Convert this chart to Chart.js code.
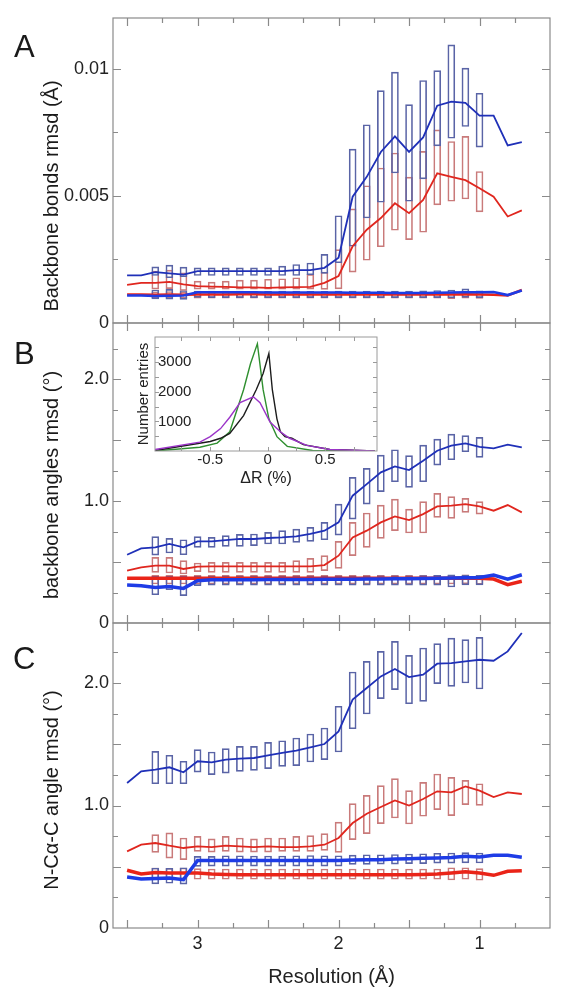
<!DOCTYPE html>
<html>
<head>
<meta charset="utf-8">
<script src="https://cdn.jsdelivr.net/npm/chart.js@4.4.1/dist/chart.umd.min.js"></script>
<style>
  body { margin: 0; background: #fff; }
  #wrap { position: relative; width: 569px; height: 1006px; font-family: 'Liberation Sans', Arial, sans-serif; color: #1a1a1a; }
  canvas { position: absolute; left: 0; top: 0; }
  #inset { left: 125px; top: 325px; }
  .tag { position: absolute; font-size: 31px; line-height: 1; }
  .ytitle { position: absolute; font-size: 20px; line-height: 1; white-space: nowrap; transform: translate(-50%, -50%) rotate(-90deg); }
</style>
</head>
<body>
<div id="wrap">
  <canvas id="cA" width="569" height="1006"></canvas>
  <canvas id="cB" width="569" height="1006"></canvas>
  <canvas id="cC" width="569" height="1006"></canvas>
  <canvas id="inset" width="262" height="170"></canvas>
  <div class="tag" style="left:14px;top:31px">A</div>
  <div class="tag" style="left:14px;top:338px">B</div>
  <div class="tag" style="left:13px;top:643px">C</div>
  <div class="ytitle" style="left:51px;top:196px">Backbone bonds rmsd (Å)</div>
  <div class="ytitle" style="left:51px;top:485px">backbone angles rmsd (°)</div>
  <div class="ytitle" style="left:51px;top:790px">N-Cα-C angle rmsd (°)</div>
</div>
<script>
// resolution grid (Å) of the running lines and of the boxes
const lineRes = [3.5,3.4,3.3,3.2,3.1,3.0,2.9,2.8,2.7,2.6,2.5,2.4,2.3,2.2,2.1,2.0,1.9,1.8,1.7,1.6,1.5,1.4,1.3,1.2,1.1,1.0,0.9,0.8,0.7]
const boxRes = [3.3,3.2,3.1,3.0,2.9,2.8,2.7,2.6,2.5,2.4,2.3,2.2,2.1,2.0,1.9,1.8,1.7,1.6,1.5,1.4,1.3,1.2,1.1,1.0]

// panel A - backbone bonds rmsd
const aBlueMid = [0.00187,0.00187,0.00200,0.00195,0.00190,0.00204,0.00204,0.00204,0.00204,0.00204,0.00204,0.00204,0.00208,0.00208,0.00217,0.00257,0.00497,0.00575,0.00673,0.00734,0.00673,0.00730,0.00855,0.00871,0.00866,0.00816,0.00816,0.00699,0.00712]
const aRedMid = [0.00150,0.00158,0.00158,0.00162,0.00152,0.00145,0.00143,0.00142,0.00140,0.00140,0.00138,0.00140,0.00141,0.00142,0.00158,0.00185,0.00302,0.00367,0.00413,0.00471,0.00432,0.00484,0.00589,0.00575,0.00562,0.00530,0.00497,0.00419,0.00443]
const aBlueLow = [0.00108,0.00108,0.00106,0.00107,0.00108,0.00121,0.00121,0.00121,0.00121,0.00121,0.00120,0.00120,0.00120,0.00120,0.00120,0.00120,0.00119,0.00119,0.00119,0.00118,0.00118,0.00118,0.00119,0.00120,0.00121,0.00121,0.00122,0.00110,0.00128]
const aRedLow = [0.00112,0.00112,0.00111,0.00112,0.00111,0.00112,0.00112,0.00112,0.00113,0.00113,0.00112,0.00112,0.00112,0.00112,0.00112,0.00112,0.00113,0.00112,0.00112,0.00113,0.00112,0.00112,0.00113,0.00112,0.00113,0.00112,0.00111,0.00108,0.00130]
const aBlueBoxLo = [0.00187,0.00178,0.00182,0.00187,0.00187,0.00187,0.00187,0.00187,0.00187,0.00187,0.00187,0.00190,0.00195,0.00237,0.00302,0.00413,0.00475,0.00590,0.00479,0.00567,0.00697,0.00727,0.00773,0.00692]
const aBlueBoxHi = [0.00221,0.00228,0.00220,0.00217,0.00217,0.00217,0.00217,0.00217,0.00217,0.00224,0.00230,0.00236,0.00270,0.00422,0.00684,0.00780,0.00914,0.00987,0.00859,0.00954,0.00993,0.01094,0.01003,0.00904]
const aRedBoxLo = [0.00133,0.00135,0.00128,0.00133,0.00133,0.00133,0.00133,0.00133,0.00133,0.00133,0.00133,0.00133,0.00132,0.00134,0.00200,0.00247,0.00300,0.00365,0.00328,0.00357,0.00465,0.00479,0.00488,0.00437]
const aRedBoxHi = [0.00204,0.00208,0.00197,0.00165,0.00161,0.00165,0.00169,0.00169,0.00172,0.00174,0.00178,0.00191,0.00200,0.00289,0.00449,0.00540,0.00610,0.00669,0.00574,0.00675,0.00760,0.00714,0.00734,0.00596]
const aBlueLowBoxLo = [0.00095,0.00094,0.00093,0.00101,0.00100,0.00100,0.00100,0.00100,0.00100,0.00100,0.00100,0.00100,0.00100,0.00100,0.00100,0.00100,0.00100,0.00100,0.00100,0.00100,0.00100,0.00099,0.00101,0.00100]
const aBlueLowBoxHi = [0.00130,0.00132,0.00128,0.00126,0.00126,0.00126,0.00126,0.00125,0.00125,0.00126,0.00126,0.00125,0.00125,0.00126,0.00126,0.00126,0.00126,0.00126,0.00126,0.00127,0.00128,0.00130,0.00134,0.00127]
const aRedLowBoxLo = [0.00098,0.00098,0.00097,0.00098,0.00098,0.00098,0.00098,0.00098,0.00098,0.00098,0.00098,0.00098,0.00098,0.00098,0.00098,0.00098,0.00098,0.00098,0.00098,0.00098,0.00098,0.00096,0.00098,0.00097]
const aRedLowBoxHi = [0.00122,0.00124,0.00122,0.00121,0.00121,0.00121,0.00121,0.00121,0.00121,0.00121,0.00121,0.00121,0.00121,0.00121,0.00121,0.00121,0.00121,0.00121,0.00121,0.00121,0.00121,0.00121,0.00124,0.00121]

// panel B - backbone angles rmsd
const bBlueMid = [0.560,0.612,0.620,0.648,0.620,0.669,0.669,0.680,0.689,0.689,0.697,0.702,0.710,0.730,0.757,0.825,1.044,1.139,1.235,1.284,1.254,1.330,1.413,1.454,1.473,1.445,1.432,1.462,1.440]
const bRedMid = [0.429,0.456,0.470,0.470,0.443,0.462,0.465,0.465,0.465,0.465,0.465,0.465,0.465,0.465,0.475,0.552,0.702,0.757,0.825,0.874,0.844,0.893,0.956,0.962,0.975,0.956,0.921,0.967,0.907]
const bBlueLow = [0.311,0.306,0.292,0.300,0.284,0.347,0.355,0.355,0.355,0.355,0.356,0.356,0.357,0.357,0.358,0.358,0.359,0.360,0.360,0.362,0.362,0.364,0.366,0.370,0.372,0.374,0.393,0.360,0.396]
const bRedLow = [0.366,0.366,0.367,0.366,0.366,0.366,0.366,0.366,0.366,0.366,0.366,0.366,0.366,0.366,0.366,0.366,0.366,0.366,0.366,0.366,0.366,0.366,0.366,0.366,0.368,0.366,0.360,0.314,0.342]
const bBlueBoxLo = [0.557,0.574,0.560,0.620,0.620,0.628,0.628,0.634,0.648,0.648,0.661,0.669,0.683,0.721,0.852,0.975,1.077,1.158,1.112,1.158,1.295,1.339,1.404,1.358]
const bBlueBoxHi = [0.708,0.694,0.683,0.708,0.702,0.716,0.727,0.730,0.743,0.757,0.770,0.784,0.825,0.975,1.194,1.268,1.377,1.421,1.372,1.459,1.508,1.549,1.536,1.522]
const bRedBoxLo = [0.415,0.410,0.402,0.421,0.415,0.415,0.415,0.415,0.415,0.415,0.415,0.415,0.429,0.448,0.552,0.620,0.694,0.757,0.738,0.738,0.866,0.858,0.907,0.893]
const bRedBoxHi = [0.538,0.538,0.511,0.492,0.497,0.497,0.497,0.497,0.497,0.497,0.511,0.530,0.552,0.669,0.825,0.902,0.967,1.016,0.934,0.995,1.063,1.036,1.022,0.995]
const bBlueLowBoxLo = [0.232,0.273,0.225,0.306,0.310,0.310,0.310,0.310,0.310,0.310,0.310,0.310,0.310,0.310,0.310,0.310,0.310,0.310,0.310,0.310,0.310,0.295,0.312,0.312]
const bBlueLowBoxHi = [0.382,0.382,0.382,0.382,0.382,0.384,0.384,0.384,0.384,0.384,0.384,0.384,0.384,0.384,0.384,0.384,0.386,0.386,0.386,0.388,0.390,0.396,0.392,0.390]
const bRedLowBoxLo = [0.320,0.320,0.320,0.320,0.320,0.320,0.320,0.320,0.320,0.320,0.320,0.320,0.320,0.320,0.320,0.320,0.320,0.320,0.320,0.320,0.320,0.320,0.322,0.318]
const bRedLowBoxHi = [0.390,0.390,0.390,0.390,0.390,0.390,0.390,0.390,0.390,0.390,0.390,0.390,0.390,0.390,0.390,0.390,0.390,0.390,0.390,0.390,0.390,0.390,0.395,0.390]

// panel C - N-CA-C angle rmsd
const cBlueMid = [1.184,1.279,1.293,1.312,1.271,1.361,1.352,1.374,1.382,1.388,1.410,1.429,1.448,1.475,1.502,1.605,1.864,1.959,2.054,2.114,2.049,2.068,2.158,2.163,2.177,2.190,2.182,2.258,2.408]
const cRedMid = [0.626,0.680,0.694,0.672,0.653,0.667,0.661,0.672,0.667,0.661,0.667,0.661,0.661,0.667,0.680,0.735,0.857,0.933,0.988,1.042,0.999,1.053,1.116,1.107,1.156,1.121,1.069,1.107,1.094]
const cBlueLow = [0.416,0.400,0.405,0.408,0.395,0.552,0.552,0.552,0.552,0.552,0.552,0.552,0.552,0.552,0.552,0.552,0.555,0.558,0.558,0.563,0.565,0.569,0.572,0.575,0.585,0.580,0.593,0.593,0.577]
const cRedLow = [0.471,0.441,0.454,0.449,0.449,0.449,0.440,0.437,0.435,0.435,0.435,0.435,0.435,0.435,0.435,0.435,0.435,0.435,0.435,0.435,0.435,0.437,0.440,0.449,0.460,0.449,0.430,0.463,0.468]
const cBlueBoxLo = [1.178,1.178,1.178,1.273,1.252,1.265,1.279,1.287,1.301,1.320,1.325,1.355,1.374,1.437,1.627,1.747,1.872,1.946,1.831,1.850,1.995,1.973,2.000,1.951]
const cBlueBoxHi = [1.442,1.410,1.361,1.456,1.437,1.464,1.483,1.483,1.516,1.529,1.551,1.584,1.633,1.810,2.090,2.177,2.259,2.340,2.226,2.286,2.321,2.367,2.354,2.373]
const cRedBoxLo = [0.618,0.571,0.558,0.626,0.620,0.626,0.620,0.620,0.620,0.626,0.626,0.626,0.634,0.618,0.721,0.770,0.852,0.898,0.849,0.912,0.966,0.917,1.007,1.001]
const cRedBoxHi = [0.762,0.776,0.735,0.748,0.727,0.748,0.735,0.727,0.735,0.735,0.748,0.754,0.770,0.865,1.015,1.083,1.162,1.219,1.121,1.189,1.257,1.230,1.205,1.178]
const cBlueLowBoxLo = [0.360,0.365,0.358,0.503,0.505,0.505,0.505,0.505,0.505,0.505,0.505,0.505,0.505,0.505,0.520,0.520,0.522,0.522,0.525,0.525,0.530,0.530,0.532,0.531]
const cBlueLowBoxHi = [0.490,0.488,0.492,0.585,0.585,0.590,0.590,0.588,0.588,0.588,0.590,0.592,0.590,0.590,0.595,0.598,0.598,0.600,0.604,0.606,0.610,0.612,0.615,0.612]
const cRedLowBoxLo = [0.395,0.398,0.400,0.398,0.398,0.398,0.398,0.398,0.398,0.398,0.398,0.398,0.398,0.398,0.398,0.398,0.398,0.398,0.398,0.398,0.398,0.392,0.398,0.390]
const cRedLowBoxHi = [0.490,0.488,0.490,0.485,0.482,0.482,0.482,0.482,0.482,0.482,0.482,0.482,0.482,0.482,0.482,0.482,0.482,0.482,0.482,0.482,0.482,0.492,0.492,0.485]

// inset - number of entries vs delta R (%)
const greenX = [-0.98,-0.59,-0.44,-0.33,-0.21,-0.15,-0.09,-0.04,0.01,0.08,0.17,0.39,0.93]
const greenY = [0,125,266,650,2070,2944,3623,2070,1085,485,157,15,0]
const blackX = [-0.98,-0.5,-0.41,-0.33,-0.21,-0.1,-0.04,0.01,0.04,0.08,0.11,0.15,0.21,0.31,0.54,0.93]
const blackY = [15,320,430,595,1197,2070,2616,3295,2070,1085,650,485,430,213,50,0]
const purpleX = [-0.98,-0.59,-0.5,-0.41,-0.33,-0.24,-0.125,-0.067,0.02,0.11,0.19,0.34,0.54,0.93]
const purpleY = [50,300,485,757,1141,1633,1830,1633,977,650,430,190,50,0]

// axis labels and tick marks
const resTicks = [1, 2, 3]
const resMarks = [3.5,3.25,3.0,2.75,2.5,2.25,2.0,1.75,1.5,1.25,1.0,0.75]
const aYTicks = [0, 0.005, 0.01]
const aYMarks = [0.0025,0.005,0.0075,0.01]
const bYTicks = [0, 1, 2]
const cYTicks = [0, 1, 2]
const angMarks = [0.25,0.5,0.75,1.0,1.25,1.5,1.75,2.0,2.25]
const insetXTicks = [-0.5, 0, 0.5]
const insetYTicks = [1000, 2000, 3000]
const insetXMarks = [-0.75,-0.5,-0.25,0,0.25,0.5,0.75]
const insetYMarks = [500,1000,1500,2000,2500,3000,3500]

const FONT = "'Liberation Sans', Arial, sans-serif"
const BLUE = "#1f30b8", RED = "#e0261e", BLUE_THICK = "#1e3ce6", RED_THICK = "#ea2418"
const BLUE_BOX = "#5a64a6", RED_BOX = "#c97a7a"

// box + inward tick marks on all four sides
const frame = {
    id: "frame",
    afterDatasetsDraw(chart, args, o) {
        const ctx = chart.ctx, a = chart.chartArea
        const xs = chart.scales.x, ys = chart.scales.y
        const isMajor = (v, s) => Math.abs(v / s - Math.round(v / s)) < 1e-6
        ctx.save()
        ctx.strokeStyle = o.color
        ctx.lineWidth = o.width
        ctx.beginPath()
        o.xMarks.forEach(v => {
            const p = Math.round(xs.getPixelForValue(v)) + 0.5
            const len = isMajor(v, o.xMajor) ? o.long : o.short
            ctx.moveTo(p, a.top); ctx.lineTo(p, a.top + len)
            ctx.moveTo(p, a.bottom); ctx.lineTo(p, a.bottom - len)
        })
        o.yMarks.forEach(v => {
            const p = Math.round(ys.getPixelForValue(v)) + 0.5
            const len = isMajor(v, o.yMajor) ? o.long : o.short
            ctx.moveTo(a.left, p); ctx.lineTo(a.left + len, p)
            ctx.moveTo(a.right, p); ctx.lineTo(a.right - len, p)
        })
        ctx.stroke()
        ctx.strokeRect(a.left, a.top, a.right - a.left, a.bottom - a.top)
        ctx.restore()
    }
}

function line(ys, color, width) {
    return { type: "line", data: lineRes.map((x, i) => ({ x: x, y: ys[i] })), borderColor: color,
             borderWidth: width, pointRadius: 0, tension: 0, order: 1 }
}
function boxes(lo, hi, color) {
    return { type: "bar", data: boxRes.map((x, i) => ({ x: x, y: [lo[i], hi[i]] })), borderColor: color,
             backgroundColor: "rgba(0,0,0,0)", borderWidth: 1, borderSkipped: false, barThickness: 7,
             grouped: false, order: 2 }
}

function panel(id, top, bottom, yMax, yTicks, yMarks, yMajor, yFmt, datasets, showX) {
    const xAxis = {
        type: "linear", reverse: true, min: 0.5, max: 3.6, offset: false, display: showX,
        grid: { display: false, drawTicks: false }, border: { display: false },
        afterBuildTicks: s => { s.ticks = resTicks.map(v => ({ value: v })) },
        ticks: { padding: 5, color: "#222", font: { family: FONT, size: 18 }, callback: v => String(v) },
        title: { display: true, text: "Resolution (Å)", color: "#222", font: { family: FONT, size: 20 }, padding: { top: 0, bottom: 17 } },
    }
    if (showX) xAxis.afterFit = s => { s.height = 1006 - bottom }
    return new Chart(document.getElementById(id), {
        type: "line",
        data: { datasets: datasets },
        options: {
            responsive: false, animation: false, events: [],
            layout: { padding: { left: 0, right: 19, top: top, bottom: showX ? 0 : 1006 - bottom } },
            scales: {
                x: xAxis,
                y: {
                    type: "linear", min: 0, max: yMax,
                    grid: { display: false, drawTicks: false }, border: { display: false },
                    afterFit: s => { s.width = 113 },
                    afterBuildTicks: s => { s.ticks = yTicks.map(v => ({ value: v })) },
                    ticks: { padding: 4, color: "#222", font: { family: FONT, size: 18 }, callback: yFmt },
                },
            },
            plugins: {
                legend: { display: false }, tooltip: { enabled: false },
                frame: { color: "#8a8a8a", width: 1.2, long: 8, short: 5, xMarks: resMarks, xMajor: 0.5, yMarks: yMarks, yMajor: yMajor },
            },
        },
        plugins: [frame],
    })
}

const fmtA = v => v === 0 ? "0" : String(v)
const fmtAng = v => v === 0 ? "0" : v.toFixed(1)

panel("cA", 18, 323, 0.012, aYTicks, aYMarks, 0.005, fmtA, [
    boxes(aBlueBoxLo, aBlueBoxHi, BLUE_BOX), boxes(aRedBoxLo, aRedBoxHi, RED_BOX),
    boxes(aBlueLowBoxLo, aBlueLowBoxHi, BLUE_BOX), boxes(aRedLowBoxLo, aRedLowBoxHi, RED_BOX),
    line(aBlueMid, BLUE, 1.8), line(aRedMid, RED, 1.8),
    line(aBlueLow, BLUE_THICK, 2.6), line(aRedLow, RED_THICK, 2.6),
], false)

panel("cB", 323, 623, 2.46, bYTicks, angMarks, 0.5, fmtAng, [
    boxes(bBlueBoxLo, bBlueBoxHi, BLUE_BOX), boxes(bRedBoxLo, bRedBoxHi, RED_BOX),
    boxes(bBlueLowBoxLo, bBlueLowBoxHi, BLUE_BOX), boxes(bRedLowBoxLo, bRedLowBoxHi, RED_BOX),
    line(bBlueMid, BLUE, 1.8), line(bRedMid, RED, 1.8),
    line(bBlueLow, BLUE_THICK, 3.5), line(bRedLow, RED_THICK, 3.5),
], false)

panel("cC", 623, 928, 2.49, cYTicks, angMarks, 0.5, fmtAng, [
    boxes(cBlueBoxLo, cBlueBoxHi, BLUE_BOX), boxes(cRedBoxLo, cRedBoxHi, RED_BOX),
    boxes(cBlueLowBoxLo, cBlueLowBoxHi, BLUE_BOX), boxes(cRedLowBoxLo, cRedLowBoxHi, RED_BOX),
    line(cBlueMid, BLUE, 1.8), line(cRedMid, RED, 1.8),
    line(cBlueLow, BLUE_THICK, 3.5), line(cRedLow, RED_THICK, 3.5),
], true)

// inset histogram of delta R
function curve(xs, ys, color) {
    return { data: xs.map((x, i) => ({ x: x, y: ys[i] })), borderColor: color, borderWidth: 1.4, pointRadius: 0, tension: 0 }
}
new Chart(document.getElementById("inset"), {
    type: "line",
    data: { datasets: [curve(purpleX, purpleY, "#9b34c8"), curve(blackX, blackY, "#1c1c1c"), curve(greenX, greenY, "#2f8f2f")] },
    options: {
        responsive: false, animation: false, events: [],
        layout: { padding: { left: 0, right: 10, top: 8, bottom: 0 } },
        scales: {
            x: {
                type: "linear", min: -0.98, max: 0.95,
                grid: { display: false, drawTicks: false }, border: { display: false },
                afterFit: s => { s.height = 44 },
                afterBuildTicks: s => { s.ticks = insetXTicks.map(v => ({ value: v })) },
                ticks: { padding: 0, color: "#222", font: { family: FONT, size: 15 }, callback: v => String(v) },
                title: { display: true, text: "ΔR (%)", color: "#222", font: { family: FONT, size: 16 }, padding: { top: 0, bottom: 7 } },
            },
            y: {
                type: "linear", min: 0, max: 3850,
                grid: { display: false, drawTicks: false }, border: { display: false },
                afterFit: s => { s.width = 30 },
                afterBuildTicks: s => { s.ticks = insetYTicks.map(v => ({ value: v })) },
                ticks: { mirror: true, padding: 3, color: "#222", font: { family: FONT, size: 15 }, callback: v => String(v) },
                title: { display: true, text: "Number entries", color: "#222", font: { family: FONT, size: 15 }, padding: { top: 10, bottom: 0 } },
            },
        },
        plugins: {
            legend: { display: false }, tooltip: { enabled: false },
            frame: { color: "#9a9a9a", width: 1, long: 4, short: 4, xMarks: insetXMarks, xMajor: 0.5, yMarks: insetYMarks, yMajor: 1000 },
        },
    },
    plugins: [frame],
})
</script>
</body>
</html>
